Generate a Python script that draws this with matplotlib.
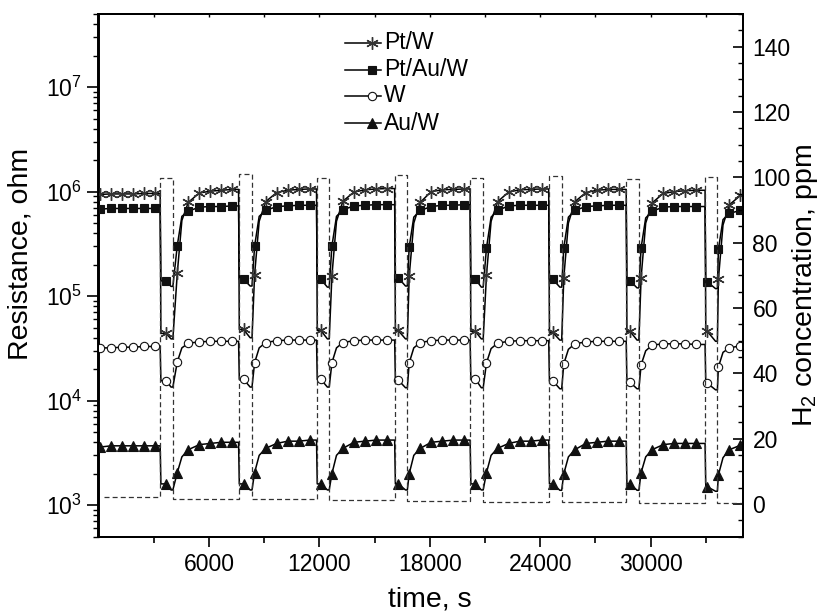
import numpy as np
import matplotlib
matplotlib.use('Agg')
import matplotlib.pyplot as plt
from matplotlib.lines import Line2D
from matplotlib.ticker import FixedLocator, LogLocator, MultipleLocator, NullFormatter

plt.rcParams['font.family'] = ['Liberation Sans', 'DejaVu Sans']
plt.rcParams['mathtext.fontset'] = 'custom'
plt.rcParams['mathtext.rm'] = 'Liberation Sans'
plt.rcParams['mathtext.it'] = 'Liberation Sans:italic'
plt.rcParams['mathtext.bf'] = 'Liberation Sans:bold'

# ---------------- data ----------------
# marker sampling times (s): one marker every 600 s
marker_time = np.arange(59) * 600 + 80

# H2 pulses (s) and concentrations (ppm)
pulse_on = [3350, 7610, 11845, 16090, 20190, 24460, 28670, 32955]
pulse_off = [4040, 8340, 12535, 16780, 20900, 25165, 29360, 33625]
h2_base = [2.2, 1.5, 1.5, 1.1, 1.0, 0.7, 0.6, 0.4, 0.2]
h2_peak = [99.9, 101.0, 99.8, 100.8, 99.9, 100.5, 99.6, 100.0]
h2_start, h2_end = 300, 35000

# resistance (ohm) at marker times
ptw_R = [9.4e5, 9.5e5, 9.5e5, 9.5e5, 9.6e5, 9.6e5,
         4.4e4, 1.65e5, 7.9e5, 9.7e5, 1.01e6, 1.03e6, 1.05e6,
         4.8e4, 1.6e5, 8.0e5, 9.8e5, 1.03e6, 1.05e6, 1.06e6,
         4.7e4, 1.55e5, 8.1e5, 9.9e5, 1.04e6, 1.06e6, 1.07e6,
         4.7e4, 1.55e5, 7.9e5, 1.0e6, 1.04e6, 1.05e6, 1.06e6,
         4.6e4, 1.6e5, 8.0e5, 9.9e5, 1.04e6, 1.05e6, 1.06e6,
         4.5e4, 1.5e5, 8.0e5, 9.8e5, 1.03e6, 1.05e6, 1.05e6,
         4.6e4, 1.5e5, 7.8e5, 9.6e5, 1.0e6, 1.02e6, 1.03e6,
         4.6e4, 1.45e5, 7.5e5, 9.2e5]
ptauw_R = [6.8e5, 6.9e5, 6.9e5, 6.9e5, 6.9e5, 6.9e5,
           1.4e5, 3.05e5, 6.5e5, 7.1e5, 7.2e5, 7.2e5, 7.3e5,
           1.45e5, 3.0e5, 6.6e5, 7.2e5, 7.3e5, 7.4e5, 7.4e5,
           1.45e5, 3.0e5, 6.7e5, 7.3e5, 7.4e5, 7.5e5, 7.5e5,
           1.5e5, 2.95e5, 6.6e5, 7.2e5, 7.4e5, 7.4e5, 7.5e5,
           1.45e5, 2.9e5, 6.6e5, 7.3e5, 7.4e5, 7.4e5, 7.4e5,
           1.45e5, 2.9e5, 6.6e5, 7.2e5, 7.3e5, 7.4e5, 7.4e5,
           1.4e5, 2.9e5, 6.5e5, 7.1e5, 7.2e5, 7.2e5, 7.2e5,
           1.37e5, 2.8e5, 6.2e5, 6.6e5]
w_R = [3.2e4, 3.2e4, 3.25e4, 3.25e4, 3.3e4, 3.3e4,
       1.55e4, 2.35e4, 3.55e4, 3.65e4, 3.7e4, 3.7e4, 3.7e4,
       1.6e4, 2.3e4, 3.6e4, 3.75e4, 3.8e4, 3.8e4, 3.8e4,
       1.6e4, 2.3e4, 3.6e4, 3.75e4, 3.8e4, 3.8e4, 3.8e4,
       1.58e4, 2.3e4, 3.6e4, 3.75e4, 3.8e4, 3.8e4, 3.8e4,
       1.6e4, 2.3e4, 3.55e4, 3.7e4, 3.75e4, 3.75e4, 3.75e4,
       1.55e4, 2.25e4, 3.5e4, 3.65e4, 3.7e4, 3.7e4, 3.7e4,
       1.5e4, 2.2e4, 3.4e4, 3.5e4, 3.5e4, 3.5e4, 3.45e4,
       1.47e4, 2.1e4, 3.2e4, 3.35e4]
auw_R = [3.6e3, 3.7e3, 3.7e3, 3.7e3, 3.7e3, 3.7e3,
         1.6e3, 2.05e3, 3.4e3, 3.8e3, 3.9e3, 4.0e3, 4.0e3,
         1.6e3, 2.05e3, 3.5e3, 3.9e3, 4.1e3, 4.1e3, 4.2e3,
         1.6e3, 2.0e3, 3.5e3, 4.0e3, 4.1e3, 4.2e3, 4.2e3,
         1.6e3, 2.0e3, 3.5e3, 4.0e3, 4.1e3, 4.2e3, 4.2e3,
         1.6e3, 2.05e3, 3.5e3, 3.9e3, 4.1e3, 4.1e3, 4.2e3,
         1.6e3, 2.0e3, 3.4e3, 3.9e3, 4.0e3, 4.1e3, 4.1e3,
         1.6e3, 2.05e3, 3.4e3, 3.8e3, 3.9e3, 3.9e3, 3.9e3,
         1.5e3, 1.95e3, 3.4e3, 3.75e3]

# line-only readings: minimum at end of each pulse, and mid-recovery value
ptw_min = [3.9e4, 4.0e4, 3.9e4, 3.9e4, 3.9e4, 3.8e4, 3.8e4, 3.7e4]
ptauw_min = [1.24e5, 1.25e5, 1.22e5, 1.25e5, 1.22e5, 1.22e5, 1.2e5, 1.18e5]
w_min = [1.35e4, 1.35e4, 1.35e4, 1.33e4, 1.33e4, 1.3e4, 1.3e4, 1.27e4]
auw_min = [1.4e3, 1.4e3, 1.4e3, 1.4e3, 1.4e3, 1.39e3, 1.39e3, 1.36e3]
ptw_rec = [5.3e5, 5.2e5, 5.2e5, 5.0e5, 5.2e5, 5.0e5, 5.0e5, 4.8e5]
ptauw_rec = [5.8e5, 5.8e5, 5.8e5, 5.7e5, 5.7e5, 5.7e5, 5.6e5, 5.4e5]
w_rec = [3.2e4, 3.2e4, 3.2e4, 3.2e4, 3.15e4, 3.1e4, 3.0e4, 2.9e4]
auw_rec = [2.9e3, 3.0e3, 3.0e3, 3.0e3, 3.0e3, 2.9e3, 2.9e3, 2.85e3]

series = [
    ('Pt/W', ptw_R, ptw_min, ptw_rec, dict(marker=(6, 2, 0), ms=9, mew=1.0, mfc='#333333', mec='#333333')),
    ('Pt/Au/W', ptauw_R, ptauw_min, ptauw_rec, dict(marker='s', ms=5.5, mew=0.8, mfc='#111111', mec='#111111')),
    ('W', w_R, w_min, w_rec, dict(marker='o', ms=6, mew=0.8, mfc='white', mec='#111111')),
    ('Au/W', auw_R, auw_min, auw_rec, dict(marker='^', ms=6.5, mew=0.8, mfc='#111111', mec='#111111')),
]


def line_vertices(vals, mins, recs):
    n = len(marker_time)
    t = list(marker_time)
    r = list(vals)
    for i in range(len(pulse_on)):
        on, off = pulse_on[i], pulse_off[i]
        before = max(j for j in range(n) if marker_time[j] < on)
        inside = min(j for j in range(n) if marker_time[j] > on)
        after = min(j for j in range(n) if marker_time[j] > off)
        t += [on, on + 40, off - 100, off, marker_time[after] + 250]
        r += [vals[before], vals[inside], mins[i], mins[i], recs[i]]
    order = np.argsort(t, kind='stable')
    return np.asarray(t)[order], np.asarray(r)[order]


# ---------------- figure ----------------
W, H = 834, 615
fig = plt.figure(figsize=(W / 100, H / 100), dpi=100)
L, R_, T, B = 98.5, 742.7, 14, 536.7
ax = fig.add_axes([L / W, 1 - B / H, (R_ - L) / W, (B - T) / H])
ax2 = ax.twinx()

for name, vals, mins, recs, st in series:
    tt, rr = line_vertices(vals, mins, recs)
    ax.plot(tt, rr, color='black', lw=1.1, zorder=3)
    ax.plot(marker_time, vals, ls='none', zorder=4, **st)

# H2 step line
h2_t = [h2_start]
h2_v = [h2_base[0]]
for i in range(len(pulse_on)):
    h2_t += [pulse_on[i], pulse_off[i]]
    h2_v += [h2_peak[i], h2_base[i + 1]]
h2_t.append(h2_end)
h2_v.append(h2_base[-1])
ax2.plot(h2_t, h2_v, drawstyle='steps-post', color='#333333', lw=0.9,
         ls=(0, (4, 2.5)), zorder=2)

# axes setup
ax.set_xlim(0, 35000)
ax.set_yscale('log')
ax.set_ylim(500, 5e7)
ax2.set_ylim(-10, 150)

ax.xaxis.set_major_locator(FixedLocator([6000, 12000, 18000, 24000, 30000]))
ax.xaxis.set_minor_locator(FixedLocator([3000, 9000, 15000, 21000, 27000, 33000]))
ax.yaxis.set_major_locator(LogLocator(base=10, numticks=20))
ax.yaxis.set_minor_locator(LogLocator(base=10, subs=np.arange(2, 10), numticks=20))
ax.yaxis.set_minor_formatter(NullFormatter())

ax.tick_params(axis='x', which='major', direction='out', length=7, width=1.2,
               labelsize=16.5, pad=5, top=False)
ax.tick_params(axis='x', which='minor', direction='out', length=4, width=1.2, top=False)
ax.tick_params(axis='y', which='major', direction='out', length=9, width=1.2,
               labelsize=16.5, pad=3, right=False)
ax.tick_params(axis='y', which='minor', direction='out', length=4, width=1.0, right=False)

ax2.yaxis.set_major_locator(MultipleLocator(20))
ax2.yaxis.set_minor_locator(MultipleLocator(5))
ax2.set_yticks([0, 20, 40, 60, 80, 100, 120, 140])
ax2.tick_params(axis='y', which='major', direction='in', length=7, width=1.2,
                labelsize=16.5, pad=7)
ax2.tick_params(axis='y', which='minor', direction='in', length=3.5, width=1.0)

secx = ax.secondary_xaxis('top')
secx.xaxis.set_major_locator(MultipleLocator(3000))
secx.tick_params(direction='in', length=2.5, width=1.0, labeltop=False)

for a in (ax, ax2):
    for sp in a.spines.values():
        sp.set_linewidth(1.4)
for sp in secx.spines.values():
    sp.set_linewidth(1.4)

# labels
fig.text(430 / W, 1 - 600 / H, 'time, s', fontsize=20.5, ha='center', va='center')
fig.text(21 / W, 1 - 254 / H, 'Resistance, ohm', fontsize=20.5, rotation=90,
         ha='center', va='center')
fig.text(805 / W, 1 - 285 / H, 'H$_2$ concentration, ppm', fontsize=20.5,
         rotation=90, ha='center', va='center')

# legend (manual, Origin style)
leg_y = [42.5, 70, 96, 123]
for (name, vals, mins, recs, st), yy in zip(series, leg_y):
    fy = 1 - yy / H
    fig.add_artist(Line2D([345 / W, 381 / W], [fy, fy], color='black', lw=1.1,
                          transform=fig.transFigure))
    fig.add_artist(Line2D([372 / W], [fy], ls='none', transform=fig.transFigure, **st))
    fig.text(384 / W, fy, name, fontsize=16.5, ha='left', va='center')

fig.savefig('out.png', dpi=100)
